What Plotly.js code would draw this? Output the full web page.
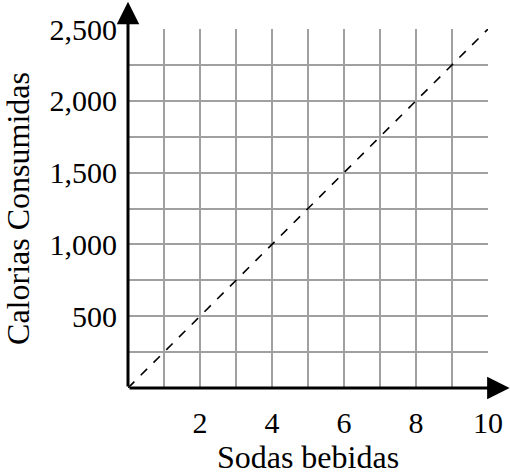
<!DOCTYPE html>
<html>
<head>
<meta charset="utf-8">
<script src="https://cdn.plot.ly/plotly-3.0.1.min.js"></script>
<style>html,body{margin:0;padding:0;background:#fff;}#chart{width:510px;height:476px;}</style>
</head>
<body>
<div id="chart"></div>
<script>
// Data
const sodas = [0, 2, 4, 6, 8, 10];
const calorias = [0, 500, 1000, 1500, 2000, 2500];

const xTickVals = [0, 1, 2, 3, 4, 5, 6, 7, 8, 9, 10];
const xTickText = ['', '', '2', '', '4', '', '6', '', '8', '', '10'];
const yTickVals = [0, 250, 500, 750, 1000, 1250, 1500, 1750, 2000, 2250, 2500];
const yTickText = ['', '', '500', '', '1,000', '', '1,500', '', '2,000', '', '2,500'];

const xTitle = 'Sodas bebidas';
const yTitle = 'Calorias Consumidas';

const font = '"Liberation Serif", "Times New Roman", serif';

const trace = {
  x: sodas, y: calorias, type: 'scatter', mode: 'lines',
  line: {color: '#000', width: 1.6, dash: 'dash'},
  hoverinfo: 'skip', cliponaxis: false
};

const layout = {
  width: 510, height: 476,
  margin: {l: 128, r: 22, t: 29, b: 88},
  paper_bgcolor: '#fff', plot_bgcolor: '#fff',
  showlegend: false,
  font: {family: font, size: 30, color: '#000'},
  xaxis: {
    range: [0, 10], tickmode: 'array', tickvals: xTickVals, ticktext: xTickText,
    showgrid: true, gridcolor: '#a0a0a0', gridwidth: 2, zeroline: false,
    showline: false, ticks: '', ticklabelstandoff: 14,
    tickfont: {family: font, size: 30, color: '#000'},
    title: {text: xTitle, font: {family: font, size: 32, color: '#000'}, standoff: 2}
  },
  yaxis: {
    range: [0, 2500], tickmode: 'array', tickvals: yTickVals, ticktext: yTickText,
    showgrid: true, gridcolor: '#a0a0a0', gridwidth: 2, zeroline: false,
    showline: false, ticks: '', ticklabelstandoff: 10,
    tickfont: {family: font, size: 30, color: '#000'},
    title: {text: yTitle, font: {family: font, size: 32, color: '#000'}, standoff: 11}
  },
  annotations: [
    {x: 10.6, y: 0, ax: 0, ay: 0, xref: 'x', yref: 'y', axref: 'x', ayref: 'y',
     text: '', showarrow: true, arrowhead: 2, arrowsize: 1.5, arrowwidth: 3, arrowcolor: '#000'},
    {x: 0, y: 2690, ax: 0, ay: 0, xref: 'x', yref: 'y', axref: 'x', ayref: 'y',
     text: '', showarrow: true, arrowhead: 2, arrowsize: 1.5, arrowwidth: 3, arrowcolor: '#000'}
  ]
};

Plotly.newPlot('chart', [trace], layout, {displayModeBar: false, staticPlot: true});
</script>
</body>
</html>
